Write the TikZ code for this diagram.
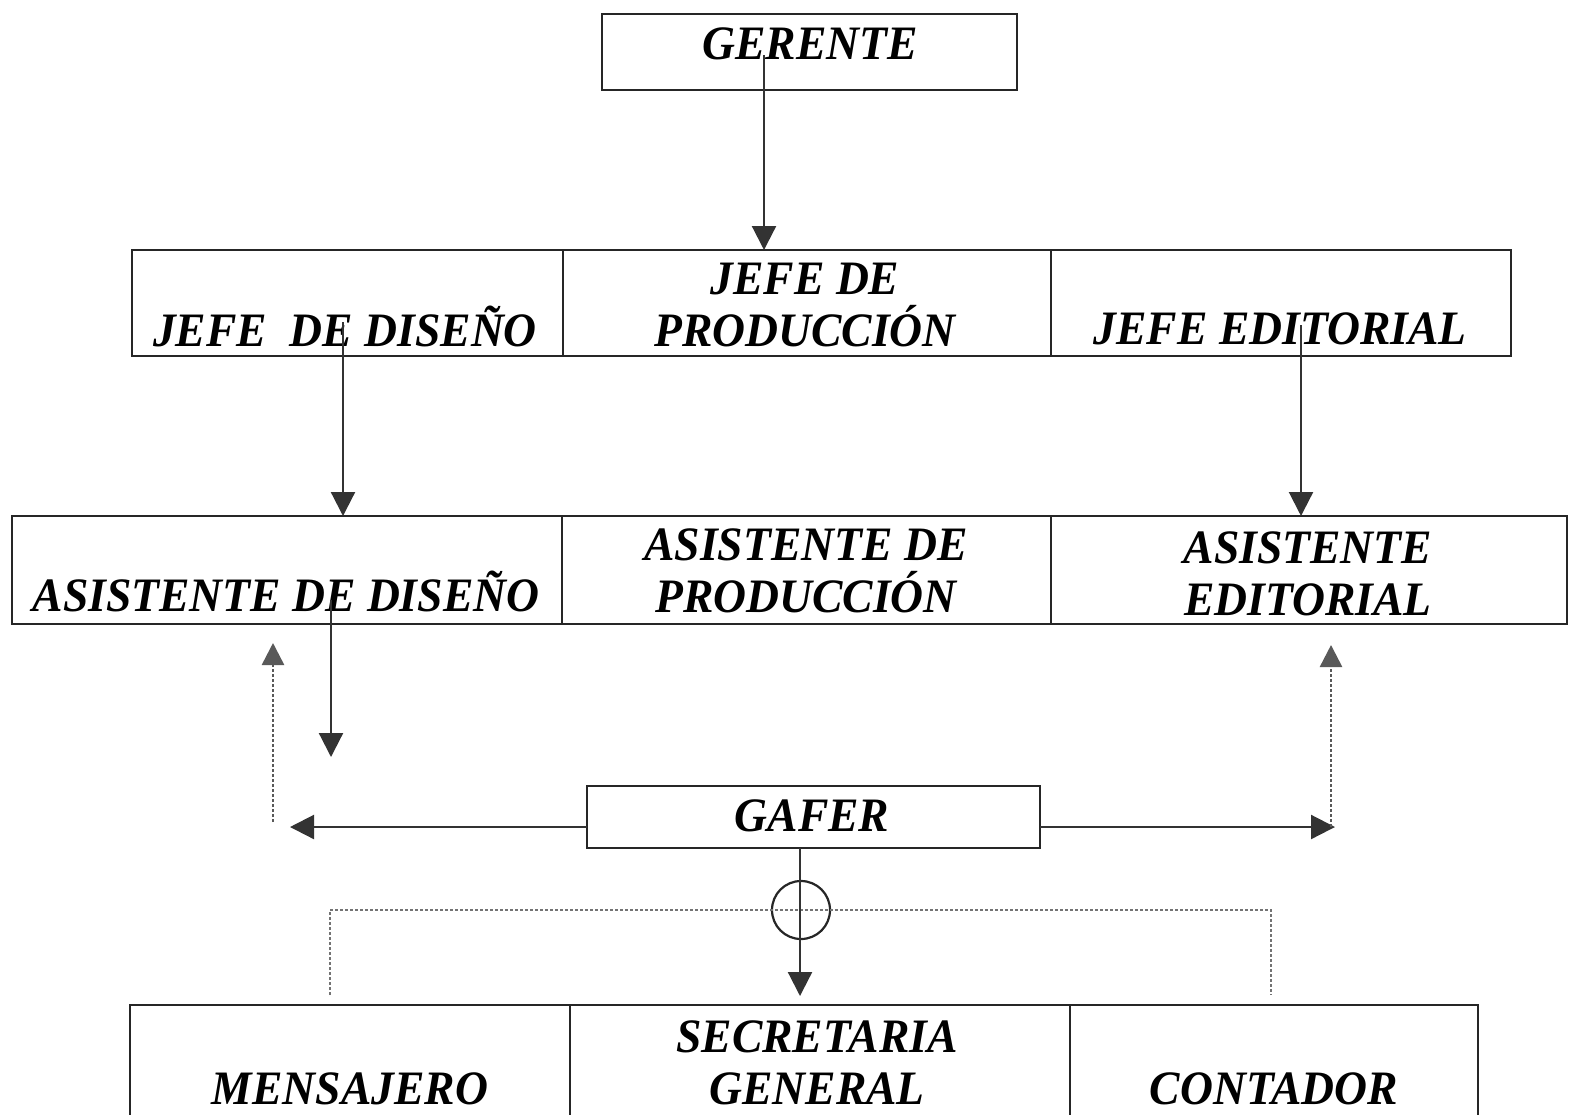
\documentclass[tikz,border=0pt]{standalone}
\usepackage{fontspec}
\usepackage{tikz}
\usetikzlibrary{arrows.meta}
\newfontfamily\orgfont{Liberation Serif}[FakeStretch=0.95]

\begin{document}
\begin{tikzpicture}[x=0.5pt, y=-0.5pt,
        cell/.style={draw=black!85, line width=1.4pt, inner sep=0pt, outer sep=0pt, minimum height=53pt},
        lbl/.style={inner sep=0pt, text depth=0pt, align=center, anchor=south,
                font=\orgfont\bfseries\itshape\fontsize{24}{26}\selectfont},
        arr/.style={-{Triangle[length=12pt,width=12pt]}, line width=1.1pt, draw=black!80, fill=black},
        dotarr/.style={-{Triangle[length=11pt,width=11pt]}, line width=1.3pt, draw=black!65, dash pattern=on 1.5pt off 1pt},
        dots/.style={line width=1.3pt, draw=black!55, dash pattern=on 1.5pt off 1pt}]
        \useasboundingbox (0,0) rectangle (1572,1114);
        % cells
        \node[cell, minimum width=207.5pt, minimum height=38pt] (ger) at (809.5,52) {};
        \node[cell, minimum width=215.5pt] (jdis) at (347.5,303) {};
        \node[cell, minimum width=244pt] (jprod) at (807,303) {};
        \node[cell, minimum width=230pt] (jedi) at (1281,303) {};
        \node[cell, minimum width=275pt, minimum height=54pt] (adis) at (287,570) {};
        \node[cell, minimum width=244.5pt, minimum height=54pt] (aprod) at (806.5,570) {};
        \node[cell, minimum width=258pt, minimum height=54pt] (aedi) at (1309,570) {};
        \node[cell, minimum width=226.5pt, minimum height=31pt] (gafer) at (813.5,817) {};
        \node[cell, minimum width=220pt, minimum height=60pt] (mens) at (350,1065) {};
        \node[cell, minimum width=250pt, minimum height=60pt] (secr) at (820,1065) {};
        \node[cell, minimum width=204pt, minimum height=60pt] (cont) at (1274,1065) {};
        % texts
        \node[lbl] (tger) at (810,60) {GERENTE};
        \node[lbl] (tjdis) at (345,347) {JEFE\ \ DE DISEÑO};
        \node[lbl] (tjprod) at (805,347) {JEFE DE\\PRODUCCIÓN};
        \node[lbl] (tjedi) at (1280,345) {JEFE EDITORIAL};
        \node[lbl] (tadis) at (286,612) {ASISTENTE DE DISEÑO};
        \node[lbl] (taprod) at (806,613) {ASISTENTE DE\\PRODUCCIÓN};
        \node[lbl] (taedi) at (1308,616) {ASISTENTE\\EDITORIAL};
        \node[lbl] (tgafer) at (812,832) {GAFER};
        \node[lbl] (tmens) at (350,1105) {MENSAJERO};
        \node[lbl] (tsecr) at (817,1105) {SECRETARIA\\GENERAL};
        \node[lbl] (tcont) at (1274,1105) {CONTADOR};
        % crossing mark
        \node[circle, draw=black!85, line width=1.1pt, minimum size=29pt, inner sep=0pt] (cx) at (801,910) {};
        % free ends
        \coordinate (g1) at (764,55);
        \coordinate (d1) at (343,322);
        \coordinate (e1) at (1301,325);
        \coordinate (d2) at (331,600);
        \coordinate (d3) at (331,757);
        \coordinate (gl) at (290,827);
        \coordinate (gr) at (1335,827);
        \coordinate (ul1) at (273,822);
        \coordinate (ul2) at (273,643);
        \coordinate (ur1) at (1331,827);
        \coordinate (ur2) at (1331,645);
        \coordinate (s1) at (800,996);
        \coordinate (b1) at (330,995);
        \coordinate (b2) at (1271,995);
        % connectors
        \draw[arr] (g1) -- (g1 |- jprod.north);
        \draw[arr] (d1) -- (d1 |- adis.north);
        \draw[arr] (e1) -- (e1 |- aedi.north);
        \draw[arr] (d2) -- (d3);
        \draw[arr] (gafer.west |- gl) -- (gl);
        \draw[arr] (gafer.east |- gr) -- (gr);
        \draw[dotarr] (ul1) -- (ul2);
        \draw[dotarr] (ur1) -- (ur2);
        \draw[dots] (b1) |- (cx.center) -| (b2);
        \draw[arr] (s1 |- gafer.south) -- (s1);
\end{tikzpicture}
\end{document}
